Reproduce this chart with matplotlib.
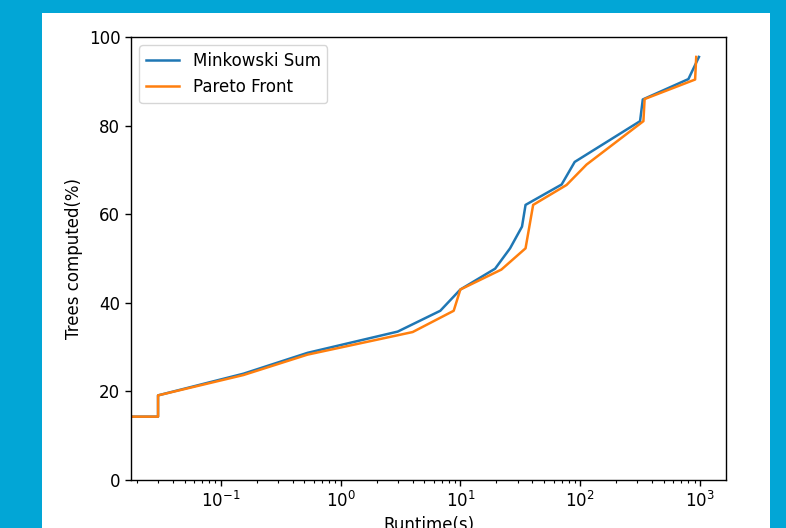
import matplotlib.pyplot as plt
from matplotlib.patches import Rectangle

# runtime (s) vs percentage of trees computed
mink_x = [0, 0.03, 0.03, 0.155, 0.53, 3.0, 6.8, 10, 19.5, 26, 32.7, 35, 70, 90, 316, 333, 800, 980]
mink_y = [14.3, 14.3, 19.1, 24.0, 28.7, 33.5, 38.2, 43.0, 47.7, 52.3, 57.2, 62.1, 66.7, 71.8, 81.0, 85.9, 90.5, 95.5]

pareto_x = [0, 0.03, 0.03, 0.155, 0.53, 4.0, 8.8, 10, 22, 35, 40.5, 77, 113, 337, 345, 910, 930]
pareto_y = [14.3, 14.3, 19.1, 23.7, 28.3, 33.4, 38.2, 43.0, 47.5, 52.3, 62.1, 66.6, 71.2, 81.0, 86.0, 90.4, 95.5]

W, H = 786, 528
fig = plt.figure(figsize=(W / 100, H / 100), dpi=100)
fig.patch.set_facecolor('#02a6d6')
# white slide area behind the plot
fig.patches.append(Rectangle((42 / W, 0), (770 - 42) / W, (H - 13) / H,
                             transform=fig.transFigure, facecolor='white',
                             edgecolor='none', zorder=-5))

ax = fig.add_axes([131 / W, (H - 480) / H, 595 / W, 443 / H])
ax.plot(mink_x, mink_y, label='Minkowski Sum', color='#1f77b4', lw=1.8)
ax.plot(pareto_x, pareto_y, label='Pareto Front', color='#ff7f0e', lw=1.8)
ax.set_xscale('log')
ax.set_ylim(0, 100)

ax.set_xlabel('Runtime(s)', fontsize=12)
ax.set_ylabel('Trees computed(%)', fontsize=12)
ax.tick_params(labelsize=12, width=1.0, length=4.2)
ax.tick_params(which='minor', length=2.4, width=0.8)
for s in ax.spines.values():
    s.set_linewidth(1.0)
ax.legend(loc='upper left', fontsize=12)

fig.savefig('out.png', dpi=100, facecolor=fig.get_facecolor())
